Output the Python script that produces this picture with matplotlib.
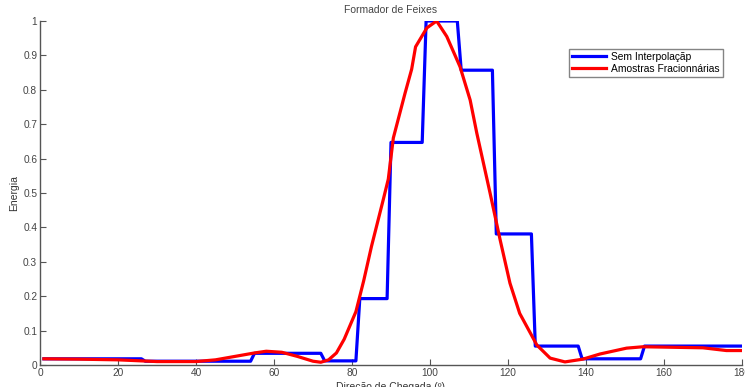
import matplotlib
matplotlib.use("Agg")
import matplotlib.pyplot as plt

plt.rcParams['font.family'] = ['Liberation Sans', 'DejaVu Sans']

# blue: nearest-sample beamformer (corners of the staircase)
blue_x = [1, 26, 27, 54, 55, 72, 73, 81, 82, 89, 90, 98, 99, 107, 108,
          116, 117, 126, 127, 138, 139, 154, 155, 180]
blue_y = [0.018, 0.018, 0.011, 0.011, 0.034, 0.034, 0.012, 0.012, 0.193, 0.193,
          0.647, 0.647, 1.0, 1.0, 0.857, 0.857, 0.381, 0.381, 0.055, 0.055,
          0.018, 0.018, 0.055, 0.055]

# red: fractional-sample beamformer
red_x = [1, 10, 20, 26, 30, 40, 45, 50, 55, 58, 62, 66, 70, 72, 74, 76, 78,
         81, 83, 85, 88, 89.3, 90.6, 93.6, 95.3, 96.3, 99.2, 101.7, 104.3,
         107.7, 110.3, 112, 115.4, 118, 120.5, 123, 127.4, 130.8, 134.6,
         139.2, 143.6, 150.4, 154.6, 160, 170, 176, 180]
red_y = [0.018, 0.017, 0.015, 0.012, 0.01, 0.01, 0.015, 0.025, 0.035, 0.04,
         0.037, 0.025, 0.011, 0.008, 0.015, 0.035, 0.075, 0.155, 0.245, 0.345,
         0.48, 0.54, 0.66, 0.79, 0.86, 0.925, 0.98, 1.0, 0.955, 0.867, 0.77,
         0.674, 0.5, 0.363, 0.238, 0.15, 0.058, 0.02, 0.009, 0.017, 0.032,
         0.049, 0.053, 0.052, 0.05, 0.042, 0.042]

x_ticks = [0, 20, 40, 60, 80, 100, 120, 140, 160, 180]
y_ticks = [0, 0.1, 0.2, 0.3, 0.4, 0.5, 0.6, 0.7, 0.8, 0.9, 1]
y_tick_labels = ['0', '0.1', '0.2', '0.3', '0.4', '0.5', '0.6', '0.7', '0.8', '0.9', '1']

fig = plt.figure(figsize=(7.45, 3.87), dpi=100)
ax = fig.add_axes([40/745, 1 - 365/387, 702/745, 344/387])

ax.plot(blue_x, blue_y, color='#0000ff', lw=2.3, label='Sem Interpolaçãp')
ax.plot(red_x, red_y, color='#ff0000', lw=2.3, label='Amostras Fracionnárias')

ax.set_xlim(0, 180)
ax.set_ylim(0, 1)
ax.set_xticks(x_ticks)
ax.set_yticks(y_ticks)
ax.set_yticklabels(y_tick_labels)

grey = '#555555'
for s in ['top', 'right']:
    ax.spines[s].set_visible(False)
for s in ['left', 'bottom']:
    ax.spines[s].set_color(grey)
    ax.spines[s].set_linewidth(1.0)
ax.tick_params(direction='in', length=4, colors=grey, labelsize=7.3, pad=2)
for lab in ax.get_xticklabels() + ax.get_yticklabels():
    lab.set_color('#444444')

ax.set_title('Formador de Feixes', fontsize=7.5, color='#444444', pad=6)
ax.set_xlabel('Direção de Chegada (º)', fontsize=7.5, color='#333333', labelpad=3)
ax.set_ylabel('Energia', fontsize=7.5, color='#333333', labelpad=3)

leg = ax.legend(loc='upper left', bbox_to_anchor=(529/702, 1 - 28/344), fontsize=7.4,
                frameon=True, fancybox=False, borderpad=0.3, handlelength=3.3,
                labelspacing=0.15, handletextpad=0.5, borderaxespad=0)
leg.get_frame().set_edgecolor('#666666')
leg.get_frame().set_linewidth(1.0)

fig.savefig('out.png', dpi=100)
